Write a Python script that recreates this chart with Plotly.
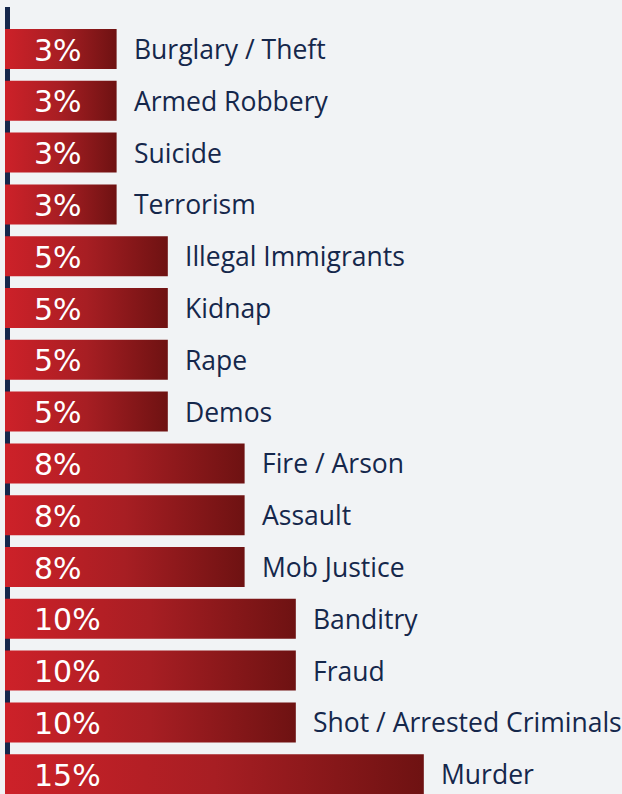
import plotly.graph_objects as go

categories = ["Burglary / Theft", "Armed Robbery", "Suicide", "Terrorism",
              "Illegal Immigrants", "Kidnap", "Rape", "Demos",
              "Fire / Arson", "Assault", "Mob Justice",
              "Banditry", "Fraud", "Shot / Arrested Criminals", "Murder"]
shares = [3, 3, 3, 3, 5, 5, 5, 5, 8, 8, 8, 10, 10, 10, 15]
share_labels = [f"{v}%" for v in shares]

W, H = 622, 794
ML, MR, MT, MB = 5, 0, 7, 0
PX_PER_PCT = 25.6
BAR_BASE = -1.36          # axis start (bars begin at the left edge)
SLOT = 51.8               # px per category slot
HALF = 0.386              # half bar thickness in slot units
TOP_PAD = (49 - MT) / SLOT  # bar-1 centre distance from plot top, in slots

plot_w = W - ML - MR
plot_h = H - MT - MB
x_max = BAR_BASE + plot_w / PX_PER_PCT
y_top = -TOP_PAD
y_bottom = y_top + plot_h / SLOT

NAVY = "#15274b"
fig = go.Figure()

for i, (cat, v) in enumerate(zip(categories, shares)):
    fig.add_trace(go.Scatter(
        x=[BAR_BASE, v, v, BAR_BASE, BAR_BASE],
        y=[i - HALF, i - HALF, i + HALF, i + HALF, i - HALF],
        mode="none", fill="toself",
        fillgradient=dict(type="horizontal",
                          colorscale=[[0, "#cd2129"], [0.5, "#a71e23"], [1, "#6e1212"]]),
        hoverinfo="skip", showlegend=False,
    ))

annotations = []
for i, (cat, v, lab) in enumerate(zip(categories, shares, share_labels)):
    annotations.append(dict(
        x=BAR_BASE, y=i, xref="x", yref="y", text=lab, showarrow=False,
        xanchor="left", yanchor="middle", xshift=27, yshift=-1,
        font=dict(family="DejaVu Sans", size=30, color="white"),
    ))
    annotations.append(dict(
        x=v, y=i, xref="x", yref="y", text=cat, showarrow=False,
        xanchor="left", yanchor="middle", xshift=15, yshift=0,
        font=dict(family="Open Sans", size=26.5, color=NAVY),
    ))

fig.update_layout(
    width=W, height=H,
    margin=dict(l=ML, r=MR, t=MT, b=MB, pad=0),
    paper_bgcolor="#f1f3f5", plot_bgcolor="#f1f3f5",
    xaxis=dict(range=[BAR_BASE, x_max], visible=False, fixedrange=True),
    yaxis=dict(range=[y_bottom, y_top], visible=False, fixedrange=True),
    annotations=annotations,
    shapes=[dict(type="line", xref="paper", yref="paper",
                 x0=2.5 / plot_w, x1=2.5 / plot_w, y0=0, y1=1,
                 line=dict(color=NAVY, width=5), layer="below")],
    showlegend=False,
)

fig.write_html("out.html", config={"displayModeBar": False},
               post_script="document.body.style.margin='0';document.body.style.background='#f1f3f5';")
